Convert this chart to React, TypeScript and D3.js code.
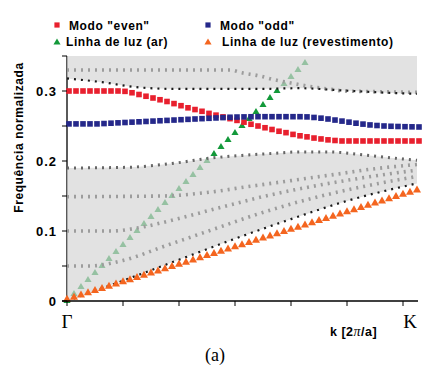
import React from 'react';
import * as d3 from 'd3';

// k grid (units of 2π/a), Γ = 0
const K_GRID = [0, 0.0125, 0.025, 0.0375, 0.05, 0.0625, 0.075, 0.0875, 0.1, 0.1125, 0.125, 0.1375, 0.15, 0.1625, 0.175, 0.1875, 0.2, 0.2125, 0.225, 0.2375, 0.25, 0.2625, 0.275, 0.2875, 0.3, 0.3125, 0.325, 0.3375, 0.35, 0.3625, 0.375, 0.3875, 0.4, 0.4125, 0.425, 0.4375, 0.45, 0.4625, 0.475, 0.4875, 0.5, 0.5125, 0.525, 0.5375, 0.55, 0.5625, 0.575, 0.5875, 0.6, 0.6125, 0.625];

const EVEN = [0.3, 0.3, 0.3, 0.3, 0.3, 0.3, 0.3, 0.3, 0.2995, 0.2975, 0.295, 0.2925, 0.29, 0.2875, 0.285, 0.282, 0.279, 0.276, 0.2735, 0.271, 0.268, 0.2655, 0.263, 0.2605, 0.258, 0.2555, 0.2525, 0.25, 0.2475, 0.245, 0.2425, 0.2405, 0.238, 0.236, 0.2345, 0.2328, 0.2315, 0.2302, 0.2293, 0.2286, 0.2286, 0.2286, 0.2286, 0.2286, 0.2286, 0.2286, 0.2286, 0.2286, 0.2286, 0.2286, 0.2286];

const ODD = [0.253, 0.253, 0.253, 0.253, 0.253, 0.2535, 0.254, 0.2545, 0.255, 0.2555, 0.256, 0.2565, 0.257, 0.2575, 0.258, 0.2585, 0.259, 0.2595, 0.26, 0.2605, 0.261, 0.2615, 0.262, 0.2625, 0.2628, 0.263, 0.2632, 0.2633, 0.2633, 0.2633, 0.2633, 0.2633, 0.2633, 0.2633, 0.263, 0.2622, 0.2612, 0.26, 0.2585, 0.257, 0.2555, 0.254, 0.2527, 0.2515, 0.2507, 0.25, 0.2496, 0.2493, 0.249, 0.2488, 0.2486];

const LIGHT_AIR = [0, 0.01, 0.02, 0.03, 0.04, 0.05, 0.06, 0.07, 0.08, 0.09, 0.1, 0.11, 0.12, 0.13, 0.14, 0.15, 0.16, 0.17, 0.18, 0.19, 0.2, 0.21, 0.22, 0.23, 0.24, 0.25, 0.26, 0.27, 0.28, 0.29, 0.3, 0.31, 0.32, 0.33, 0.34];

const LIGHT_CLAD = [0, 0.0031, 0.0063, 0.0094, 0.0125, 0.0156, 0.0188, 0.0219, 0.025, 0.0281, 0.0313, 0.0344, 0.0375, 0.0406, 0.0438, 0.0469, 0.05, 0.0531, 0.0563, 0.0594, 0.0625, 0.0656, 0.0688, 0.0719, 0.075, 0.0781, 0.0813, 0.0844, 0.0875, 0.0906, 0.0938, 0.0969, 0.1, 0.1031, 0.1063, 0.1094, 0.1125, 0.1156, 0.1188, 0.1219, 0.125, 0.1281, 0.1313, 0.1344, 0.1375, 0.1406, 0.1438, 0.1469, 0.15, 0.1531, 0.1563];

// cladding bands
const UPPER_EDGE_K = [0, 0.059, 0.13, 0.196, 0.345, 0.416, 0.4875, 0.559, 0.625];
const UPPER_EDGE_F = [0.318, 0.313, 0.305, 0.303, 0.303, 0.304, 0.301, 0.298, 0.296];
const UPPER_BAND_K = [0, 0.291, 0.3125, 0.341, 0.371, 0.402, 0.4375, 0.466, 0.496, 0.559, 0.625];
const UPPER_BAND_F = [0.33, 0.33, 0.326, 0.322, 0.316, 0.311, 0.306, 0.303, 0.3, 0.299, 0.298];

const BAND_A_K = [0, 0.107, 0.193, 0.255, 0.3125, 0.371, 0.416, 0.466, 0.527, 0.586, 0.625];
const BAND_A_F = [0.19, 0.191, 0.197, 0.204, 0.208, 0.211, 0.213, 0.213, 0.209, 0.204, 0.201];
const BAND_B_K = [0, 0.17, 0.25, 0.32, 0.4, 0.48, 0.55, 0.625];
const BAND_B_F = [0.149, 0.15, 0.155, 0.163, 0.172, 0.181, 0.189, 0.195];
const BAND_C_K = [0, 0.08, 0.13, 0.2, 0.28, 0.36, 0.44, 0.52, 0.625];
const BAND_C_F = [0.1, 0.1, 0.105, 0.118, 0.135, 0.151, 0.164, 0.175, 0.187];
const BAND_D_K = [0, 0.04, 0.1, 0.18, 0.26, 0.34, 0.42, 0.52, 0.625];
const BAND_D_F = [0.05, 0.05, 0.058, 0.08, 0.102, 0.124, 0.143, 0.162, 0.178];
const LOWER_EDGE_K = [0, 0.1, 0.2, 0.3, 0.4, 0.5, 0.625];
const LOWER_EDGE_F = [0, 0.029, 0.059, 0.089, 0.117, 0.143, 0.168];

const X_TICKS = [0, 0.1, 0.2, 0.3, 0.4, 0.5, 0.6];
const Y_TICKS = [0, 0.05, 0.1, 0.15, 0.2, 0.25, 0.3, 0.35];
const Y_LABEL_VALUES = [0, 0.1, 0.2, 0.3];
const Y_LABEL_TEXT = ['0', '0.1', '0.2', '0.3'];

const RED = '#e8202e';
const BLUE = '#25288a';
const GREEN = '#13993a';
const ORANGE = '#f4651f';

const zip = (a: number[], b: number[]) => a.map((v, i) => [v, b[i]] as [number, number]);

export default function App() {
  const x = d3.scaleLinear().domain([0, 0.625]).range([67, 417]);
  const y = d3.scaleLinear().domain([0, 0.35]).range([301, 56]);
  const line = d3
    .line<[number, number]>()
    .x((d) => x(d[0]))
    .y((d) => y(d[1]))
    .curve(d3.curveMonotoneX);

  const upperEdge = zip(UPPER_EDGE_K, UPPER_EDGE_F);
  const lowerEdge = zip(LOWER_EDGE_K, LOWER_EDGE_F);
  const bandA = zip(BAND_A_K, BAND_A_F);

  const upperPoly =
    `M${x(0)},${y(0.35)}L${x(0.625)},${y(0.35)}` +
    (line([...upperEdge].reverse()) || '').replace(/^M/, 'L') +
    'Z';
  const lowerPoly =
    (line(bandA) || '') + (line([...lowerEdge].reverse()) || '').replace(/^M/, 'L') + 'Z';

  const tri = (s: number) => d3.symbol().type(d3.symbolTriangle).size(s)() || '';
  const triSmall = tri(22);
  const triBig = tri(28);

  const grayBands = [
    zip(UPPER_BAND_K, UPPER_BAND_F),
    zip(BAND_B_K, BAND_B_F),
    zip(BAND_C_K, BAND_C_F),
    zip(BAND_D_K, BAND_D_F),
  ];
  const darkBands = [upperEdge, lowerEdge];

  const sq = 5.6;
  const font = '"Liberation Sans", Arial, sans-serif';
  const serif = '"Liberation Serif", "Times New Roman", serif';

  return (
    <svg
      width={428}
      height={375}
      style={{ position: 'absolute', left: 0, top: 0, background: '#fff' }}
    >
      <rect x={0} y={0} width={428} height={375} fill="#fff" />
      {/* air light line (underneath the cladding continuum) */}
      {LIGHT_AIR.map((f, i) => (
        <path key={'g' + i} d={triSmall} transform={`translate(${x(K_GRID[i])},${y(f)})`} fill={GREEN} />
      ))}
      {/* y axis line */}
      <line x1={x(0)} x2={x(0)} y1={y(0.35)} y2={y(0)} stroke="#000" strokeWidth={1.3} />
      {/* cladding continuum */}
      <path d={upperPoly} fill="#d4d4d4" fillOpacity={0.68} />
      <path d={lowerPoly} fill="#d4d4d4" fillOpacity={0.68} />
      {grayBands.map((b, i) => (
        <path
          key={'gb' + i}
          d={line(b) || ''}
          fill="none"
          stroke="#9c9c9c"
          strokeWidth={3.6}
          strokeDasharray="2 5"
        />
      ))}
      <path d={line(bandA) || ''} fill="none" stroke="#666" strokeWidth={3} strokeDasharray="2 5" />
      {darkBands.map((b, i) => (
        <path
          key={'db' + i}
          d={line(b) || ''}
          fill="none"
          stroke="#1a1a1a"
          strokeWidth={2.2}
          strokeDasharray="2 5"
        />
      ))}
      {/* modes */}
      {EVEN.map((f, i) => (
        <rect key={'e' + i} x={x(K_GRID[i]) - sq / 2 + 2} y={y(f) - sq / 2} width={sq} height={sq} fill={RED} />
      ))}
      {ODD.map((f, i) => (
        <rect key={'o' + i} x={x(K_GRID[i]) - sq / 2 + 2} y={y(f) - sq / 2} width={sq} height={sq} fill={BLUE} />
      ))}
      {LIGHT_CLAD.map((f, i) => (
        <path key={'c' + i} d={triBig} transform={`translate(${x(K_GRID[i])},${y(f) - 1.5})`} fill={ORANGE} />
      ))}
      {/* x axis */}
      <line x1={62} x2={418} y1={y(0)} y2={y(0)} stroke="#000" strokeWidth={1.3} />
      {X_TICKS.map((t) => (
        <line key={'xt' + t} x1={x(t)} x2={x(t)} y1={y(0)} y2={y(0) + 5} stroke="#000" strokeWidth={1} />
      ))}
      {Y_TICKS.map((t) => (
        <line key={'yt' + t} x1={x(0) - 5} x2={x(0)} y1={y(t)} y2={y(t)} stroke="#000" strokeWidth={1} />
      ))}
      {Y_LABEL_VALUES.map((v, i) => (
        <text
          key={'yl' + v}
          x={57}
          y={y(v)}
          dy="0.36em"
          textAnchor="end"
          fontFamily={font}
          fontWeight="bold"
          fontSize={13}
          letterSpacing={1}
          fill="#000"
        >
          {Y_LABEL_TEXT[i]}
        </text>
      ))}
      <text x={x(0)} y={328} textAnchor="middle" fontFamily={serif} fontSize={19} fill="#000">
        Γ
      </text>
      <text x={410} y={328} textAnchor="middle" fontFamily={serif} fontSize={19} fill="#000">
        K
      </text>
      <text x={330} y={336} fontFamily={font} fontWeight="bold" fontSize={12.5} fill="#000" letterSpacing={0.5}>
        k [2<tspan fontFamily={serif} fontStyle="italic" fontWeight="normal" fontSize={14}>π</tspan>/a]
      </text>
      <text x={215} y={361} textAnchor="middle" fontFamily={serif} fontSize={18} fill="#000">
        (a)
      </text>
      <text
        transform="translate(23,137.5) rotate(-90)"
        textAnchor="middle"
        fontFamily={font}
        fontWeight="bold"
        fontSize={12}
        letterSpacing={0.6}
        fill="#000"
      >
        Frequência normalizada
      </text>
      {/* legend */}
      <rect x={57 - 2.6} y={25 - 2.6} width={5.2} height={5.2} fill={RED} />
      <text x={69} y={29.5} fontFamily={font} fontWeight="bold" fontSize={12} letterSpacing={0.6}>
        Modo "even"
      </text>
      <rect x={208 - 2.6} y={25 - 2.6} width={5.2} height={5.2} fill={BLUE} />
      <text x={220} y={29.5} fontFamily={font} fontWeight="bold" fontSize={12} letterSpacing={0.6}>
        Modo "odd"
      </text>
      <path d={triSmall} transform="translate(57,42.5)" fill={GREEN} />
      <text x={66} y={45.5} fontFamily={font} fontWeight="bold" fontSize={12} letterSpacing={0.6}>
        Linha de luz (ar)
      </text>
      <path d={triSmall} transform="translate(208,42.5)" fill={ORANGE} />
      <text x={222} y={45.5} fontFamily={font} fontWeight="bold" fontSize={12} letterSpacing={0.6}>
        Linha de luz (revestimento)
      </text>
    </svg>
  );
}
